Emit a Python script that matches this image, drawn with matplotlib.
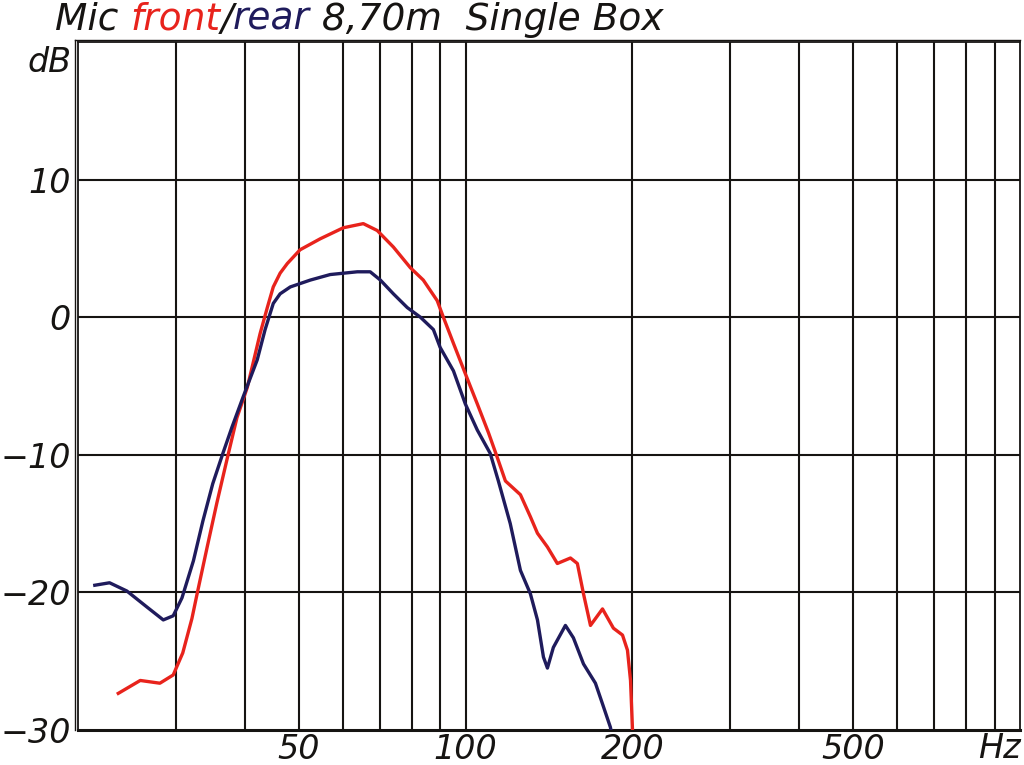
import numpy as np
import matplotlib.pyplot as plt
from matplotlib.lines import Line2D

# === Data (frequency in Hz, level in dB) ===
front_hz = [23.5, 25.9, 28.1, 29.7, 30.9, 32.1, 32.8, 34.2, 35.6, 37.2, 38.7, 40.4,
            42.6, 43.9, 45.0, 46.3, 47.7, 50.3, 54.7, 60.2, 65.4, 69.3, 74.1, 79.5,
            83.9, 88.9, 91.2, 95.1, 99.9, 105.0, 110.0, 114.1, 118.0, 125.6, 130.9,
            134.8, 140.5, 146.4, 154.6, 159.1, 163.2, 168.0, 176.6, 184.8, 191.9,
            195.9, 198.4, 200.5]
front_db = [-27.4, -26.4, -26.6, -26.0, -24.4, -21.9, -20.1, -16.7, -13.5, -10.2, -7.3, -5.1,
            -1.2, 0.7, 2.2, 3.2, 3.9, 4.9, 5.7, 6.5, 6.8, 6.3, 5.1, 3.6,
            2.7, 1.2, 0.0, -1.9, -4.1, -6.3, -8.4, -10.2, -11.9, -12.9, -14.5,
            -15.7, -16.7, -17.9, -17.5, -17.9, -20.1, -22.4, -21.2, -22.6, -23.1,
            -24.2, -26.4, -31.0]

rear_hz = [21.3, 22.8, 24.5, 26.7, 28.5, 29.7, 30.8, 32.3, 33.6, 35.0, 36.5, 37.9,
           39.7, 42.1, 43.5, 45.0, 46.3, 48.3, 52.5, 57.0, 63.8, 67.3, 70.2, 74.1,
           78.5, 82.9, 87.5, 90.0, 95.1, 99.9, 105.0, 110.8, 114.6, 120.4, 125.6,
           130.9, 134.8, 138.2, 140.5, 144.0, 151.4, 156.5, 163.2, 171.5, 176.6,
           182.5, 185.0]
rear_db = [-19.5, -19.3, -19.9, -21.1, -22.0, -21.7, -20.4, -17.7, -14.8, -12.1, -9.9, -8.0,
           -5.8, -3.1, -0.9, 1.0, 1.7, 2.2, 2.7, 3.1, 3.3, 3.3, 2.7, 1.7,
           0.7, 0.0, -0.9, -2.2, -3.9, -6.3, -8.2, -9.9, -11.9, -15.0, -18.4,
           -20.1, -22.0, -24.7, -25.5, -24.0, -22.4, -23.3, -25.2, -26.6, -28.1,
           -29.8, -31.0]

grid_hz = [30, 40, 50, 60, 70, 80, 90, 100, 200, 300, 400, 500, 600, 700, 800, 900]
label_hz = [50, 100, 200, 500]
y_ticks = [-30, -20, -10, 0, 10]
y_grid = [-20, -10, 0, 10]

red = '#e8231c'
navy = '#1f1b5c'
ink = '#161412'
font = 'DejaVu Sans'

# === Figure ===
fig = plt.figure(figsize=(10.24, 7.65), dpi=100, facecolor='white')
ax = fig.add_axes([78 / 1024, 35 / 765, 942 / 1024, 688 / 765])
ax.set_xscale('log')
ax.set_xlim(20, 1000)
ax.set_ylim(-30, 20)

# grid
for f in grid_hz:
    ax.axvline(f, color=ink, lw=1.5, zorder=1)
for v in y_grid:
    ax.axhline(v, color=ink, lw=1.5, zorder=1)

# curves
ax.plot(front_hz, front_db, color=red, lw=2.4, zorder=3, solid_capstyle='butt',
        solid_joinstyle='round')
ax.plot(rear_hz, rear_db, color=navy, lw=2.4, zorder=3, solid_capstyle='butt',
        solid_joinstyle='round')

# ticks / labels
ax.minorticks_off()
ax.set_xticks(label_hz)
ax.set_xticklabels([str(v) for v in label_hz])
ax.set_yticks(y_ticks)
ax.set_yticklabels(['\u221230', '\u221220', '\u221210', '0', '10'])
ax.tick_params(length=0, labelsize=24, colors=ink)
ax.tick_params(axis='x', pad=2)
ax.tick_params(axis='y', pad=5)
for lab in ax.get_xticklabels() + ax.get_yticklabels():
    lab.set_fontstyle('italic')
    lab.set_family(font)

# frame
for s in ax.spines.values():
    s.set_color(ink)
    s.set_linewidth(1.3)
ax.spines['bottom'].set_linewidth(2.2)
# doubled left and top edges
fig.add_artist(Line2D([75 / 1024, 75 / 1024], [35 / 765, 725 / 765], color=ink, lw=1.0))
fig.add_artist(Line2D([75 / 1024, 1020 / 1024], [725 / 765, 725 / 765], color=ink, lw=1.0))

# unit labels
fig.text(71 / 1024, 1 - 62 / 765, 'dB', ha='right', va='center', fontsize=24,
         style='italic', family=font, color=ink)
fig.text(1021 / 1024, 1 - 749 / 765, 'Hz', ha='right', va='center', fontsize=24,
         style='italic', family=font, color=ink)

# title built from coloured pieces
pieces = [('Mic ', ink), ('front', red), ('/', ink), ('rear', navy),
          (' 8,70m  Single Box', ink)]
fig.canvas.draw()
renderer = fig.canvas.get_renderer()
x = 55 / 1024
for txt, col in pieces:
    t = fig.text(x, 1 - 30 / 765, txt, ha='left', va='baseline', fontsize=27,
                 style='italic', family=font, color=col)
    bb = t.get_window_extent(renderer=renderer)
    x += bb.width / fig.bbox.width

fig.savefig('out.png', dpi=100, facecolor='white')
